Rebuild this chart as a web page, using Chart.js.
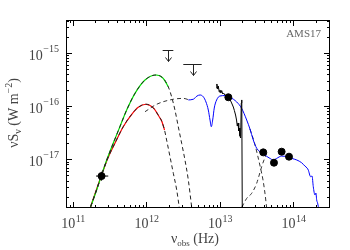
<!DOCTYPE html>
<html lang="en">
<head>
<meta charset="UTF-8">
<title>AMS17</title>
<style>
  body { margin: 0; background: #fff; }
  #wrap { width: 350px; height: 250px; }
</style>
</head>
<body>
<div id="wrap"><canvas id="sed"></canvas></div>

<script src="https://cdn.jsdelivr.net/npm/chart.js"></script>

<script>
// cold dust, total (green, with dashed black on top)
const greenNu = [1.74e11, 2.10e11, 2.45e11, 2.88e11, 3.53e11, 4.35e11, 5.38e11, 6.98e11, 9.55e11, 1.35e12,
                 1.69e12, 1.98e12, 2.20e12, 2.44e12, 2.71e12, 3.01e12, 3.34e12, 3.71e12, 4.12e12];
const greenS  = [1.29e-18, 2.65e-18, 5.07e-18, 9.70e-18, 2.00e-17, 4.09e-17, 8.41e-17, 1.73e-16, 3.08e-16, 3.82e-16,
                 3.31e-16, 2.30e-16, 1.49e-16, 8.41e-17, 4.09e-17, 2.00e-17, 9.70e-18, 4.09e-18, 1.27e-18];
const greenSolidCount = 12;

// cold dust (red)
const redNu = [1.74e11, 2.45e11, 2.99e11, 3.72e11, 4.83e11, 6.30e11, 7.73e11, 9.84e11, 1.24e12, 1.49e12,
               1.61e12, 1.76e12, 1.88e12, 2.09e12, 2.32e12, 2.58e12, 2.79e12];
const redS  = [1.29e-18, 5.07e-18, 1.06e-17, 2.00e-17, 4.09e-17, 6.98e-17, 9.46e-17, 1.08e-16, 9.2e-17, 6.30e-17,
               5.24e-17, 3.55e-17, 2.30e-17, 1.12e-17, 5.46e-18, 2.65e-18, 1.27e-18];
const redSolidCount = 12;

// warm dust, dashed part before the blue template
const warmNu = [9.55e11, 1.38e12, 2.32e12, 3.17e12, 3.82e12];
const warmS  = [7.81e-17, 1.08e-16, 1.34e-16, 1.39e-16, 1.30e-16];

// blue template
const blueNu = [3.71e12, 4.34e12, 4.87e12, 5.35e12, 5.93e12, 6.45e12, 6.94e12, 7.32e12, 7.62e12, 7.96e12,
                8.36e12, 9.01e12, 1.00e13, 1.17e13, 1.37e13, 1.69e13, 1.97e13, 2.31e13, 2.56e13, 2.84e13,
                3.16e13, 3.88e13, 4.79e13, 5.31e13, 5.90e13, 6.90e13, 8.07e13, 9.46e13, 1.11e14, 1.29e14,
                1.43e14, 1.53e14, 1.59e14, 1.71e14, 1.79e14, 1.86e14, 1.96e14, 2.02e14, 2.07e14, 2.13e14, 2.22e14];
const blueS  = [1.30e-16, 1.34e-16, 1.54e-16, 1.61e-16, 1.49e-16, 1.19e-16, 8.41e-17, 5.46e-17, 4.09e-17, 5.46e-17,
                9.16e-17, 1.30e-16, 1.54e-16, 1.57e-16, 1.46e-16, 1.19e-16, 9.06e-17, 5.46e-17, 3.70e-17, 2.30e-17,
                1.61e-17, 1.26e-17, 1.04e-17, 9.70e-18, 1.04e-17, 1.15e-17, 1.12e-17, 1.04e-17, 9.70e-18, 8.63e-18,
                7.48e-18, 6.87e-18, 6.30e-18, 4.72e-18, 4.86e-18, 3.06e-18, 2.14e-18, 2.33e-18, 1.72e-18, 1.51e-18, 1.12e-18];

// IRS spectrum (black)
const specNu = [8.91e12, 9.08e12, 9.31e12, 9.48e12, 9.78e12, 1.000e13, 1.03e13, 1.055e13, 1.09e13, 1.12e13,
                1.17e13, 1.23e13, 1.30e13, 1.37e13, 1.44e13, 1.52e13, 1.57e13, 1.63e13, 1.68e13, 1.72e13,
                1.76e13, 1.80e13, 1.83e13, 1.87e13, 1.91e13, 1.95e13, 1.98e13, 2.01e13];
const specS  = [2.18e-16, 2.59e-16, 2.08e-16, 2.37e-16, 1.83e-16, 2.00e-16, 1.75e-16, 1.95e-16, 1.68e-16, 1.75e-16,
                1.61e-16, 1.51e-16, 1.48e-16, 1.32e-16, 1.14e-16, 9.57e-17, 8.24e-17, 6.78e-17, 5.46e-17, 4.21e-17,
                4.80e-17, 3.40e-17, 3.86e-17, 2.74e-17, 2.51e-17, 1.14e-16, 1.30e-16, 1.12e-18];

// dashed components on the near-IR side
const fallNu = [2.56e13, 2.95e13, 3.24e13, 3.56e13, 3.85e13, 4.09e13, 4.32e13];
const fallS  = [3.70e-17, 2.02e-17, 1.21e-17, 6.87e-18, 4.09e-18, 2.33e-18, 1.22e-18];
const riseNu = [1.99e13, 2.31e13, 2.70e13, 3.16e13, 3.42e13, 3.69e13, 3.97e13, 4.32e13];
const riseS  = [1.27e-18, 1.85e-18, 2.30e-18, 3.55e-18, 5.07e-18, 7.26e-18, 9.70e-18, 1.30e-17];

// photometry
const obsNu = [2.45e11, 1.30e13, 3.88e13, 5.43e13, 6.90e13, 8.69e13];
const obsS  = [4.85e-18, 1.46e-16, 1.35e-17, 8.63e-18, 1.39e-17, 1.12e-17];
const obsNuLo = [2.06e11, null, null, null, null, null];
const obsNuHi = [3.02e11, null, null, null, null, null];
const obsSLo  = [3.97e-18, null, null, null, null, null];
const obsSHi  = [5.85e-18, null, null, null, null, null];

// upper limits
const ulNu   = [1.96e12, 4.23e12];
const ulS    = [1.12e-15, 6.14e-16];
const ulNuLo = [1.66e12, 3.17e12];
const ulNuHi = [2.32e12, 5.64e12];

const xExps = [11, 12, 13, 14];
const yExps = [-15, -16, -17];
const label = 'AMS17';

const pts = (xs, ys) => xs.map((v, i) => ({ x: v, y: ys[i] }));
const serif = '"Liberation Serif", "DejaVu Serif", serif';

function line(data, color, opts) {
    return Object.assign({
        data: data, showLine: true, borderColor: color, borderWidth: 1,
        pointRadius: 0, fill: false, cubicInterpolationMode: 'monotone'
    }, opts || {});
}

// frame, inward ticks, labels, error bars, limits
const decor = {
    id: 'decor',
    afterDatasetsDraw(chart) {
        const { ctx, scales: { x, y } } = chart;
        ctx.save();
        ctx.strokeStyle = '#000';
        ctx.lineWidth = 1;
        obsNu.forEach((nu, i) => {
            const px = x.getPixelForValue(nu), py = y.getPixelForValue(obsS[i]);
            ctx.beginPath();
            if (obsNuLo[i] != null) {
                ctx.moveTo(x.getPixelForValue(obsNuLo[i]), py);
                ctx.lineTo(x.getPixelForValue(obsNuHi[i]), py);
            }
            if (obsSLo[i] != null) {
                ctx.moveTo(px, y.getPixelForValue(obsSLo[i]));
                ctx.lineTo(px, y.getPixelForValue(obsSHi[i]));
            }
            ctx.stroke();
        });
        ctx.strokeStyle = '#222';
        ulNu.forEach((nu, i) => {
            const px = Math.round(x.getPixelForValue(nu)) + 0.5;
            const py = Math.round(y.getPixelForValue(ulS[i])) + 0.5;
            ctx.beginPath();
            ctx.moveTo(x.getPixelForValue(ulNuLo[i]), py);
            ctx.lineTo(x.getPixelForValue(ulNuHi[i]), py);
            ctx.moveTo(px, py);
            ctx.lineTo(px, py + 11);
            ctx.moveTo(px - 3, py + 7);
            ctx.lineTo(px, py + 11);
            ctx.lineTo(px + 3, py + 7);
            ctx.stroke();
        });
        ctx.restore();
    },
    afterDraw(chart) {
        const { ctx, chartArea: a, scales: { x, y } } = chart;
        ctx.save();
        ctx.strokeStyle = '#000';
        ctx.lineWidth = 1;
        ctx.strokeRect(a.left + 0.5, a.top + 0.5, a.right - a.left - 1, a.bottom - a.top - 1);

        ctx.beginPath();
        for (let e = 10; e <= 14; e++) {
            for (let k = 1; k <= 9; k++) {
                const v = k * Math.pow(10, e);
                if (v < x.min || v > x.max) continue;
                const px = Math.round(x.getPixelForValue(v)) + 0.5;
                const len = k === 1 ? 6 : 3;
                ctx.moveTo(px, a.bottom); ctx.lineTo(px, a.bottom - len);
                ctx.moveTo(px, a.top); ctx.lineTo(px, a.top + len);
            }
        }
        for (let e = -18; e <= -15; e++) {
            for (let k = 1; k <= 9; k++) {
                const v = k * Math.pow(10, e);
                if (v < y.min || v > y.max) continue;
                const py = Math.round(y.getPixelForValue(v)) + 0.5;
                const len = k === 1 ? 6 : 3;
                ctx.moveTo(a.left, py); ctx.lineTo(a.left + len, py);
                ctx.moveTo(a.right, py); ctx.lineTo(a.right - len, py);
            }
        }
        ctx.stroke();

        ctx.fillStyle = '#444';
        const big = '14px ' + serif, small = '10px ' + serif;
        xExps.forEach(e => {
            const px = x.getPixelForValue(Math.pow(10, e));
            ctx.font = big; const w1 = ctx.measureText('10').width;
            ctx.font = small; const w2 = ctx.measureText(String(e)).width;
            const x0 = px - (w1 + w2) / 2;
            ctx.textAlign = 'left';
            ctx.font = big; ctx.fillText('10', x0, 228);
            ctx.font = small; ctx.fillText(String(e), x0 + w1 + 0.5, 222);
        });
        yExps.forEach(e => {
            const py = y.getPixelForValue(Math.pow(10, e));
            const s = '\u2212' + String(-e);
            ctx.font = small; const w2 = ctx.measureText(s).width;
            ctx.textAlign = 'right';
            ctx.fillText(s, 59, py - 1);
            ctx.font = big; ctx.fillText('10', 59 - w2 - 0.5, py + 7);
        });

        // x title
        ctx.textAlign = 'left';
        const parts = [['\u03bd', big, 0], ['obs', '9px ' + serif, 3], [' (Hz)', big, 0]];
        let tw = 0;
        parts.forEach(p => { ctx.font = p[1]; tw += ctx.measureText(p[0]).width; });
        let cx = 195 - tw / 2;
        parts.forEach(p => { ctx.font = p[1]; ctx.fillText(p[0], cx, 243 + p[2]); cx += ctx.measureText(p[0]).width; });

        // y title
        ctx.save();
        ctx.translate(18, 113);
        ctx.rotate(-Math.PI / 2);
        const yparts = [['\u03bdS', big, 0], ['\u03bd', '10px ' + serif, 3], [' (W m', big, 0], ['\u22122', '10px ' + serif, -6], [')', big, 0]];
        tw = 0;
        yparts.forEach(p => { ctx.font = p[1]; tw += ctx.measureText(p[0]).width; });
        cx = -tw / 2;
        yparts.forEach(p => { ctx.font = p[1]; ctx.fillText(p[0], cx, p[2]); cx += ctx.measureText(p[0]).width; });
        ctx.restore();

        ctx.fillStyle = '#666';
        ctx.font = '11px ' + serif;
        ctx.textAlign = 'right';
        ctx.fillText(label, 321, 37);
        ctx.restore();
    }
};

new Chart(document.getElementById('sed'), {
    type: 'scatter',
    data: {
        datasets: [
            { data: pts(obsNu, obsS), pointRadius: 3.5, pointBackgroundColor: '#000', pointBorderColor: '#000', order: 0 },
            line(pts(specNu, specS), '#000', { cubicInterpolationMode: 'default', tension: 0, order: 1 }),
            line(pts(blueNu, blueS), '#0000ff', { order: 2 }),
            line(pts(warmNu, warmS), '#333', { borderDash: [4, 3], order: 3 }),
            line(pts(fallNu, fallS), '#333', { borderDash: [4, 3], order: 3 }),
            line(pts(riseNu, riseS), '#333', { borderDash: [4, 3], order: 3 }),
            line(pts(greenNu, greenS), '#222', { borderDash: [4, 3], order: 4 }),
            line(pts(greenNu.slice(0, greenSolidCount), greenS.slice(0, greenSolidCount)), '#00e000', { borderWidth: 1.2, order: 5 }),
            line(pts(redNu, redS), '#222', { borderDash: [4, 3], order: 4 }),
            line(pts(redNu.slice(0, redSolidCount), redS.slice(0, redSolidCount)), '#ff0000', { borderWidth: 1.2, order: 5 })
        ]
    },
    options: {
        responsive: true,
        maintainAspectRatio: false,
        animation: false,
        layout: { padding: { left: 66, right: 20, top: 20, bottom: 42 } },
        plugins: { legend: { display: false }, tooltip: { enabled: false } },
        scales: {
            x: { type: 'logarithmic', display: false, min: 8.04e10, max: 3.14e14 },
            y: { type: 'logarithmic', display: false, min: 1.22e-18, max: 4.11e-15 }
        }
    },
    plugins: [decor]
});
</script>
</body>
</html>
